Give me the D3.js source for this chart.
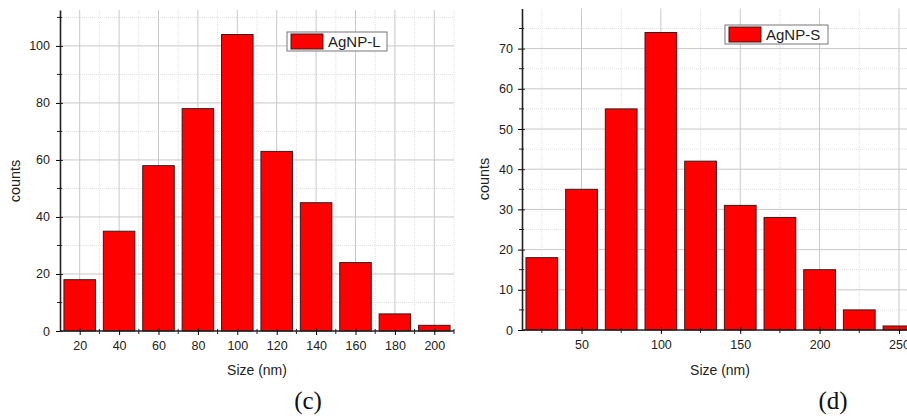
<!DOCTYPE html>
<html>
<head>
<meta charset="utf-8">
<script src="https://cdn.jsdelivr.net/npm/d3@7"></script>
<style>
  body { margin: 0; background: #fff; }
  svg { display: block; }
  svg text { font-family: "Liberation Sans", Arial, sans-serif; }
  svg text.letter { font-family: "Liberation Serif", "Times New Roman", serif; }
  .tick text { fill: #222; }
</style>
</head>
<body>
<svg id="chart" width="907" height="419"></svg>
<script>
// data
const sizesL = [20, 40, 60, 80, 100, 120, 140, 160, 180, 200]
const countsL = [18, 35, 58, 78, 104, 63, 45, 24, 6, 2]
const xTicksL = [20, 40, 60, 80, 100, 120, 140, 160, 180, 200]
const yTicksL = [0, 20, 40, 60, 80, 100]

const sizesS = [25, 50, 75, 100, 125, 150, 175, 200, 225, 250]
const countsS = [18, 35, 55, 74, 42, 31, 28, 15, 5, 1]
const xTicksS = [50, 100, 150, 200, 250]
const yTicksS = [0, 10, 20, 30, 40, 50, 60, 70]

const svg = d3.select('#chart')

function drawPanel (opt) {
  const x = d3.scaleLinear().domain(opt.xDomain).range(opt.xRange)
  const y = d3.scaleLinear().domain(opt.yDomain).range(opt.yRange)
  const g = svg.append('g')
  const [x0, x1] = opt.xRange
  const [y0, y1] = opt.yRange

  // minor grid (dotted)
  g.selectAll('.vminor').data(opt.xMinor).join('line')
    .attr('x1', d => x(d)).attr('x2', d => x(d)).attr('y1', y0).attr('y2', y1)
    .attr('stroke', '#e0e0e0').attr('stroke-dasharray', '1,1')
  g.selectAll('.hminor').data(opt.yMinor).join('line')
    .attr('x1', x0).attr('x2', x1).attr('y1', d => y(d)).attr('y2', d => y(d))
    .attr('stroke', '#e0e0e0').attr('stroke-dasharray', '1,1')
  // major grid
  g.selectAll('.vmajor').data(opt.xTicks).join('line')
    .attr('x1', d => x(d)).attr('x2', d => x(d)).attr('y1', y0).attr('y2', y1)
    .attr('stroke', '#c8c8c8')
  g.selectAll('.hmajor').data(opt.yTicks.filter(d => d > 0)).join('line')
    .attr('x1', x0).attr('x2', x1).attr('y1', d => y(d)).attr('y2', d => y(d))
    .attr('stroke', '#c8c8c8')

  // bars
  const bw = (x(opt.binWidth) - x(0)) * 0.8
  g.selectAll('.bar').data(opt.sizes).join('rect')
    .attr('x', d => x(d) - bw / 2)
    .attr('y', (d, i) => y(opt.counts[i]))
    .attr('width', bw)
    .attr('height', (d, i) => y(0) - y(opt.counts[i]))
    .attr('fill', '#ff0000')
    .attr('stroke', '#3a1a1a')
    .attr('stroke-width', 1)

  // axes
  const xAxis = g.append('g').attr('transform', `translate(0,${y0})`)
    .call(d3.axisBottom(x).tickValues(opt.xTicks).tickSize(4).tickPadding(6).tickSizeOuter(0))
  xAxis.selectAll('.tick').append('line').attr('y1', 0).attr('y2', -3).attr('stroke', '#222')
  xAxis.selectAll('.tick text').style('font-size', '12.5px')
  g.append('g').attr('transform', `translate(0,${y0})`)
    .selectAll('line').data(opt.xMinor).join('line')
    .attr('x1', d => x(d)).attr('x2', d => x(d)).attr('y1', -2).attr('y2', 3).attr('stroke', '#222')

  const yAxis = g.append('g').attr('transform', `translate(${x0},0)`)
    .call(d3.axisLeft(y).tickValues(opt.yTicks).tickSize(4).tickPadding(opt.yPad).tickSizeOuter(0))
  yAxis.selectAll('.tick').append('line').attr('x1', 0).attr('x2', 3).attr('stroke', '#222')
  yAxis.selectAll('.tick text').style('font-size', '12.5px')
  g.append('g').attr('transform', `translate(${x0},0)`)
    .selectAll('line').data(opt.yMinor).join('line')
    .attr('x1', -3).attr('x2', 2).attr('y1', d => y(d)).attr('y2', d => y(d)).attr('stroke', '#222')
  g.selectAll('.domain').attr('stroke', '#222').attr('stroke-width', 1.6)
  xAxis.select('.domain').attr('d', `M${x0},0H${x1}`)

  // axis titles
  g.append('text').attr('x', (opt.xTitle)).attr('y', 375)
    .attr('text-anchor', 'middle').style('font-size', '14px').attr('fill', '#222')
    .text('Size (nm)')
  g.append('text').attr('transform', `translate(${opt.yTitle[0]},${opt.yTitle[1]})rotate(-90)`)
    .attr('text-anchor', 'middle').attr('dy', '0.35em').style('font-size', '14.5px').attr('fill', '#222')
    .text('counts')

  // legend
  const lg = g.append('g').attr('transform', `translate(${opt.legend[0]},${opt.legend[1]})`)
  lg.append('rect').attr('width', opt.legend[2]).attr('height', 19)
    .attr('fill', '#fff').attr('stroke', '#777')
  lg.append('rect').attr('x', 4).attr('y', 2).attr('width', 32).attr('height', 15)
    .attr('fill', '#ff0000').attr('stroke', '#3a1a1a')
  lg.append('text').attr('x', 41).attr('y', 15).style('font-size', '15px').attr('fill', '#222')
    .text(opt.name)

  // panel letter
  svg.append('text').attr('class', 'letter').attr('x', opt.letter[0]).attr('y', 409)
    .attr('text-anchor', 'middle')
    .style('font-size', '25px').attr('fill', '#111')
    .text(opt.letter[1])
}

drawPanel({
  sizes: sizesL, counts: countsL, binWidth: 20, name: 'AgNP-L',
  xDomain: [10, 210], xRange: [60, 454],
  yDomain: [0, 112.6], yRange: [331, 10],
  xTicks: xTicksL, yTicks: yTicksL,
  xMinor: [30, 50, 70, 90, 110, 130, 150, 170, 190, 210],
  yMinor: [10, 30, 50, 70, 90, 110],
  yPad: 6, xTitle: 257, yTitle: [15, 181],
  legend: [287, 32, 100], letter: [308, '(c)']
})

drawPanel({
  sizes: sizesS, counts: countsS, binWidth: 25, name: 'AgNP-S',
  xDomain: [12.5, 262.5], xRange: [522, 918.8],
  yDomain: [0, 80], yRange: [330, 8.4],
  xTicks: xTicksS, yTicks: yTicksS,
  xMinor: [25, 75, 125, 175, 225],
  yMinor: [5, 15, 25, 35, 45, 55, 65, 75],
  yPad: 5, xTitle: 720, yTitle: [484, 179],
  legend: [725, 25, 103], letter: [833, '(d)']
})
</script>
</body>
</html>
